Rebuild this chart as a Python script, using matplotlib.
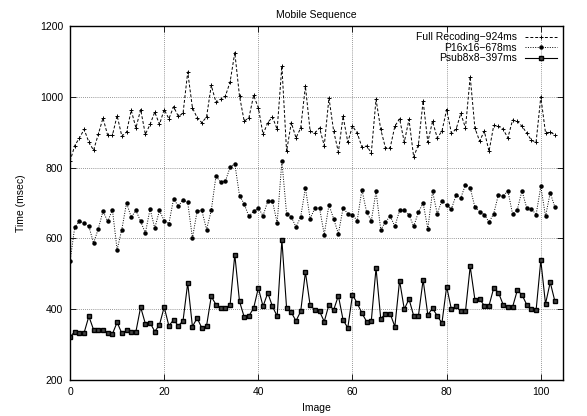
import matplotlib
matplotlib.use("Agg")
import matplotlib.pyplot as plt
import numpy as np

plt.rcParams["font.family"] = ["Liberation Sans", "DejaVu Sans"]
plt.rcParams["font.size"] = 7.5

# frame index 0..103
images = np.arange(104)

full_recoding = [
    818, 862, 884, 908, 872, 849, 894, 940, 891, 891,
    947, 889, 900, 962, 912, 964, 894, 922, 957, 922,
    964, 938, 972, 945, 953, 1070, 969, 941, 927, 943,
    1032, 985, 993, 1002, 1042, 1125, 1002, 931, 941, 1004,
    969, 894, 927, 943, 908, 1087, 846, 927, 884, 912,
    1030, 903, 898, 912, 862, 997, 903, 844, 945, 872,
    917, 898, 858, 861, 842, 993, 908, 856, 856, 917,
    938, 872, 936, 830, 865, 988, 872, 931, 884, 903,
    964, 898, 908, 953, 912, 1057, 912, 875, 903, 846,
    919, 917, 908, 884, 934, 931, 917, 898, 877, 872,
    1000, 898, 900, 893,
]

p16x16 = [
    535, 632, 648, 644, 634, 587, 627, 677, 648, 681,
    568, 625, 700, 660, 679, 648, 615, 683, 629, 679,
    650, 642, 712, 691, 709, 702, 601, 677, 679, 625,
    679, 776, 759, 762, 801, 811, 721, 697, 662, 677,
    686, 664, 705, 705, 644, 818, 670, 661, 632, 661,
    743, 656, 685, 686, 611, 695, 655, 613, 686, 670,
    667, 650, 738, 674, 650, 733, 625, 646, 663, 634,
    679, 679, 667, 634, 674, 700, 627, 733, 670, 707,
    693, 683, 722, 714, 752, 743, 688, 676, 667, 646,
    670, 724, 719, 735, 669, 681, 735, 686, 684, 667,
    747, 662, 729, 688,
]

psub8x8 = [
    321, 337, 334, 334, 380, 342, 342, 340, 332, 330,
    363, 332, 340, 337, 337, 406, 359, 362, 337, 356,
    406, 353, 370, 353, 367, 474, 351, 375, 347, 353,
    436, 413, 403, 403, 412, 554, 422, 378, 381, 403,
    460, 408, 446, 408, 380, 596, 403, 391, 367, 394,
    505, 411, 398, 394, 365, 413, 398, 438, 370, 347,
    441, 417, 389, 365, 368, 516, 373, 387, 387, 351,
    481, 400, 429, 381, 381, 483, 384, 403, 381, 361,
    464, 400, 408, 394, 394, 521, 427, 429, 410, 410,
    460, 447, 413, 406, 406, 453, 441, 413, 400, 397,
    538, 415, 476, 422,
]

fig = plt.figure(figsize=(5.87, 4.16), dpi=100)
ax = fig.add_axes([0.1193, 0.0865, 0.8397, 0.851])

ax.plot(images, full_recoding, color="black", lw=0.7, ls=(0, (3, 2)),
        marker="+", ms=3, mew=0.7, label="Full Recoding\u2212924ms")
ax.plot(images, p16x16, color="black", lw=0.7, ls=(0, (1, 1.5)),
        marker="o", ms=2.2, label="P16x16\u2212678ms")
ax.plot(images, psub8x8, color="black", lw=0.8, ls="-",
        marker="s", ms=2.2, mfc="#444444", label="Psub8x8\u2212397ms")

ax.set_xlim(0, 104.7)
ax.set_ylim(200, 1200)
ax.set_xticks([0, 20, 40, 60, 80, 100])
ax.set_yticks([200, 400, 600, 800, 1000, 1200])
ax.tick_params(direction="in", length=4, width=0.6, top=True, right=True,
               labelsize=7.5, pad=5)
ax.grid(True, color="#777777", ls=(0, (1, 1.5)), lw=0.6)
for s in ax.spines.values():
    s.set_linewidth(1.0)

ax.set_title("Mobile Sequence", fontsize=7.5, pad=6)
ax.set_xlabel("Image", labelpad=4)
ax.set_ylabel("Time (msec)", labelpad=10)

leg = ax.legend(loc="upper right", frameon=False, markerfirst=False,
                handlelength=3.0, handletextpad=0.8, labelspacing=0.05,
                borderaxespad=0.2, fontsize=7.5)
for t in leg.get_texts():
    t.set_ha("right")
leg._legend_box.align = "right"

fig.savefig("out.png", dpi=100)
